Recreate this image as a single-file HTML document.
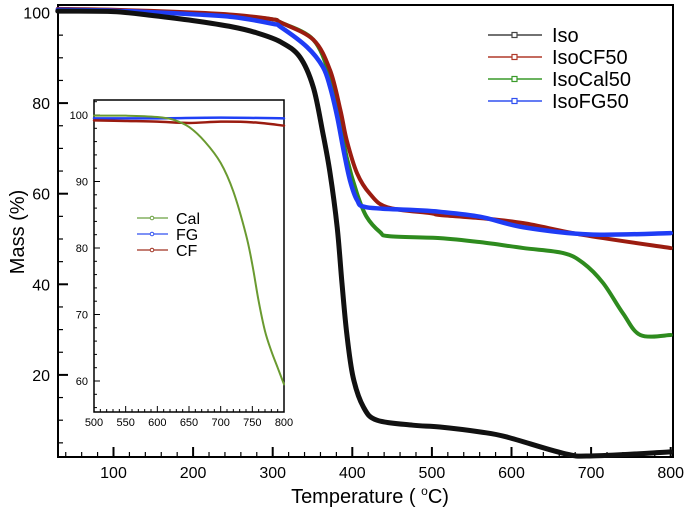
<!DOCTYPE html>
<html><head><meta charset="utf-8"><style>
body{margin:0;background:#fff}
svg text{font-family:"Liberation Sans",Arial,sans-serif}
</style></head><body>
<svg id="c" width="685" height="510" viewBox="0 0 685 510"></svg>
<script>
const isoT=[30,100,150,200,250,280,310,334,351,363,372,381,387,393,401,414,431,476,510,561,594,665,699,800];
const isoV=[100.3,100.2,99.3,98.2,96.8,95.5,93.5,90.2,83.5,73.4,64.6,52.6,40.3,29.2,19.5,12.9,10,8.9,8.5,7.4,6.3,2.7,2.1,3];
const fgT=[30,100,200,250,300,310,343,363,372,381,389,397,406,418,476,510,561,615,699,800];
const fgV=[100.6,100.4,99.6,99,97.5,96.8,92.4,88,83.6,77,69.6,63,58.6,57,56.4,56,54.9,52.6,51,51.3];
const cfT=[30,100,200,250,300,310,351,372,385,393,406,422,444,498,510,561,615,690,800];
const cfV=[100.8,100.6,100,99.5,98.5,97.8,94,87.3,78.5,71.8,64.5,60,57,55.7,55.3,54.6,53.5,50.9,48];
const calT=[30,100,200,250,300,310,351,372,385,393,406,418,435,447,510,561,615,665,690,715,740,762,800];
const calV=[100.6,100.5,99.9,99.4,98.5,97.8,94,85.8,75.6,68,60,54.9,51.5,50.6,50.2,49.3,48,46.9,44.7,40.3,33.6,28.8,28.8];
const inCalT=[500,550,600,625,650,675,700,720,740,750,760,770,780,790,800];
const inCalV=[99.9,99.9,99.7,99.3,98.2,96,92.8,88.5,82,77.5,72,67.5,64.5,62,59.5];
const inFgT=[500,600,700,800];
const inFgV=[99.5,99.5,99.6,99.5];
const inCfT=[500,550,600,650,700,750,800];
const inCfV=[99.2,99.1,99,98.8,99,98.9,98.4];
const xTicks=[100,200,300,400,500,600,700,800];
const yTicks=[20,40,60,80,100];
const ixTicks=[500,550,600,650,700,750,800];
const iyTicks=[60,70,80,90,100];

const NS="http://www.w3.org/2000/svg",svg=document.getElementById('c');
function el(t,a,p){const e=document.createElementNS(NS,t);for(const k in a)e.setAttribute(k,a[k]);(p||svg).appendChild(e);return e;}
const X=t=>113.5+(t-100)*0.796, Y=v=>12.5+(100-v)*4.53;
const IX=t=>94+(t-500)*190/300, IY=v=>115+(100-v)*6.65;
const f=el('rect',{x:58,y:5,width:615,height:452,fill:'none',stroke:'#000','stroke-width':2});

for(let t=40;t<=800;t+=20){const m=t%100===0;el('line',{x1:X(t),x2:X(t),y1:457,y2:457-(m?10:5),stroke:'#000','stroke-width':m?2:1.2});}
for(let v=5;v<=100;v+=5){const m=v%20===0;el('line',{x1:58,x2:58+(m?10:5),y1:Y(v),y2:Y(v),stroke:'#000','stroke-width':m?2:1.2});}
xTicks.forEach(t=>{const e=el('text',{x:X(t),y:478,'font-size':16,'text-anchor':'middle'});e.textContent=t;
});
yTicks.forEach(v=>{const e=el('text',{x:50,y:Y(v)+6,'font-size':16,'text-anchor':'end'});e.textContent=v;
});
let xt=el('text',{x:370,y:503,'font-size':20,'text-anchor':'middle'});xt.innerHTML='Temperature ( <tspan dy="-8" font-size="12">o</tspan><tspan dy="8">C)</tspan>';

let yt=el('text',{x:0,y:0,'font-size':20,'text-anchor':'middle',transform:'translate(24,232) rotate(-90)'});yt.textContent='Mass (%)';

function smooth(P){let d='M'+P[0][0]+','+P[0][1];
for(let i=0;i<P.length-1;i++){const p0=P[Math.max(i-1,0)],p1=P[i],p2=P[i+1],p3=P[Math.min(i+2,P.length-1)];
const c1=[p1[0]+(p2[0]-p0[0])/6,p1[1]+(p2[1]-p0[1])/6],c2=[p2[0]-(p3[0]-p1[0])/6,p2[1]-(p3[1]-p1[1])/6];
d+=' C'+c1.join(',')+' '+c2.join(',')+' '+p2.join(',');}return d;}
function line(T,V,fx,fy,col,w,name){const e=el('path',{d:smooth(T.map((t,i)=>[fx(t),fy(V[i])])),fill:'none',stroke:col,'stroke-width':w,'stroke-linejoin':'round','stroke-linecap':'round'});
}
line(calT,calV,X,Y,'#2e8b1e',4,'series-isocal50');
line(cfT,cfV,X,Y,'#9b1c10',4,'series-isocf50');
line(fgT,fgV,X,Y,'#1f3cf5',4.5,'series-isofg50');
line(isoT,isoV,X,Y,'#111',5,'series-iso');
const leg=[['Iso','#444'],['IsoCF50','#b03a2a'],['IsoCal50','#3a9a2a'],['IsoFG50','#3050f0']];
leg.forEach((l,i)=>{const y=35+i*22;
const ln=el('line',{x1:488,x2:542,y1:y,y2:y,stroke:l[1],'stroke-width':1.5});

el('rect',{x:512,y:y-2.5,width:5,height:5,fill:'#fff',stroke:l[1],'stroke-width':1.2});
const tx=el('text',{x:552,y:y+7,'font-size':20});tx.textContent=l[0];
});
const ir=el('rect',{x:94,y:100,width:190,height:312,fill:'#fff',stroke:'#000','stroke-width':1.5});

for(let t=510;t<800;t+=10){const m=t%50===0;el('line',{x1:IX(t),x2:IX(t),y1:412,y2:412-(m?6:3),stroke:'#000','stroke-width':1});}
for(let v=56;v<=102;v+=2){const m=v%10===0;el('line',{x1:94,x2:94+(m?6:3),y1:IY(v),y2:IY(v),stroke:'#000','stroke-width':1});}
ixTicks.forEach(t=>{const e=el('text',{x:IX(t),y:426,'font-size':11,'text-anchor':'middle'});e.textContent=t;
});
iyTicks.forEach(v=>{const e=el('text',{x:88,y:IY(v)+4,'font-size':11,'text-anchor':'end'});e.textContent=v;
});
line(inFgT,inFgV,IX,IY,'#2040f5',2.5,'inset-series-fg');
line(inCfT,inCfV,IX,IY,'#9b1c10',2.5,'inset-series-cf');
line(inCalT,inCalV,IX,IY,'#6a9a30',2,'inset-series-cal');
const il=[['Cal','#6aa040'],['FG','#3050f0'],['CF','#a03020']];
il.forEach((l,i)=>{const y=218+i*16;
const ln=el('line',{x1:137,x2:168,y1:y,y2:y,stroke:l[1],'stroke-width':1.2});

el('circle',{cx:152,cy:y,r:1.8,fill:'#fff',stroke:l[1]});
const tx=el('text',{x:176,y:y+6,'font-size':16});tx.textContent=l[0];
});
</script>
</body></html>
